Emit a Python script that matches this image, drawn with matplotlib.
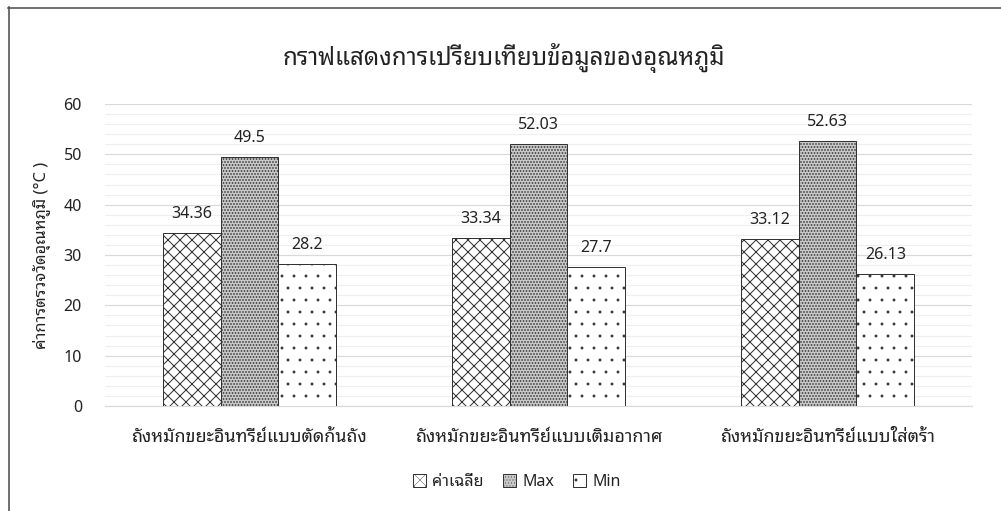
import matplotlib
matplotlib.use("Agg")
import matplotlib.pyplot as plt
from matplotlib.lines import Line2D
from matplotlib.ticker import MultipleLocator
import numpy as np

# ---- data ----
categories = ["ถังหมักขยะอินทรีย์แบบตัดก้นถัง", "ถังหมักขยะอินทรีย์แบบเติมอากาศ", "ถังหมักขยะอินทรีย์แบบใส่ตร้า"]
series_names = ["ค่าเฉลี่ย", "Max", "Min"]
avg_values = [34.36, 33.34, 33.12]
max_values = [49.5, 52.03, 52.63]
min_values = [28.2, 27.7, 26.13]
title_text = "กราฟแสดงการเปรียบเทียบข้อมูลของอุณหภูมิ"
ylabel_text = "ค่าการตรวจวัดอุณหภูมิ (°C )"
y_ticks = [0, 10, 20, 30, 40, 50, 60]

plt.rcParams['font.family'] = ['Noto Sans', 'Noto Sans Thai Looped', 'DejaVu Sans']

W, H, DPI = 1001, 511, 72
fig = plt.figure(figsize=(W / DPI, H / DPI), dpi=DPI)
fig.patch.set_facecolor('white')

ax = fig.add_axes([105 / W, (H - 406) / H, (972 - 105) / W, (406 - 104) / H])

x = np.arange(len(categories))
bw = 0.2
edge = '#333333'
styles = [
    dict(hatch='xx', facecolor='white'),
    dict(hatch='....', facecolor='#c8c8c8'),
    dict(hatch='.', facecolor='white'),
]
hatch_lw = [1.0, 1.1, 0.4]
all_vals = [avg_values, max_values, min_values]
for i, (vals, st, name) in enumerate(zip(all_vals, styles, series_names)):
    plt.rcParams['hatch.linewidth'] = hatch_lw[i]
    b = ax.bar(x + (i - 1) * bw, vals, width=bw, edgecolor=edge, linewidth=1.0,
               label=name, zorder=3, **st)
    for rect, v in zip(b, vals):
        ax.annotate(f"{v:g}", (rect.get_x() + rect.get_width() / 2, rect.get_height()),
                    xytext=(0, 15), textcoords='offset points', ha='center', va='baseline',
                    fontsize=16, color='#222222')

ax.set_xlim(-0.5, len(categories) - 0.5)
ax.set_ylim(0, 60)
ax.set_yticks(y_ticks)
ax.yaxis.set_minor_locator(MultipleLocator(2))
ax.grid(axis='y', which='major', color='#d9d9d9', linewidth=1.2, zorder=0)
ax.grid(axis='y', which='minor', color='#efefef', linewidth=1.2, zorder=0)
ax.set_axisbelow(True)
ax.set_xticks(x)
ax.set_xticklabels(categories, fontsize=18, color='#222222')
for s in ['top', 'right', 'left']:
    ax.spines[s].set_visible(False)
ax.spines['bottom'].set_color('#d9d9d9')
ax.spines['bottom'].set_linewidth(1.2)
ax.tick_params(axis='both', which='both', length=0)
ax.tick_params(axis='y', pad=23, labelsize=16, labelcolor='#222222')
ax.tick_params(axis='x', pad=22)
ax.set_ylabel(ylabel_text, fontsize=16.5, color='#222222', labelpad=13)

fig.text(504 / W, 1 - 58 / H, title_text, ha='center', va='center', fontsize=24, color='#222222')

fig.legend(loc='center', bbox_to_anchor=(517 / W, 1 - 482 / H), ncol=3, frameon=False,
           fontsize=16, handlelength=0.8, handleheight=0.8, handletextpad=0.4,
           columnspacing=1.2, labelcolor='#222222')

# chart frame (top and left borders)
fig.add_artist(Line2D([8.5 / W, 8.5 / W], [0, 1 - 7 / H], color='#505050', lw=1.6))
fig.add_artist(Line2D([8 / W, 1], [1 - 7.5 / H, 1 - 7.5 / H], color='#505050', lw=1.6))

fig.savefig("out.png", dpi=DPI, facecolor='white')
